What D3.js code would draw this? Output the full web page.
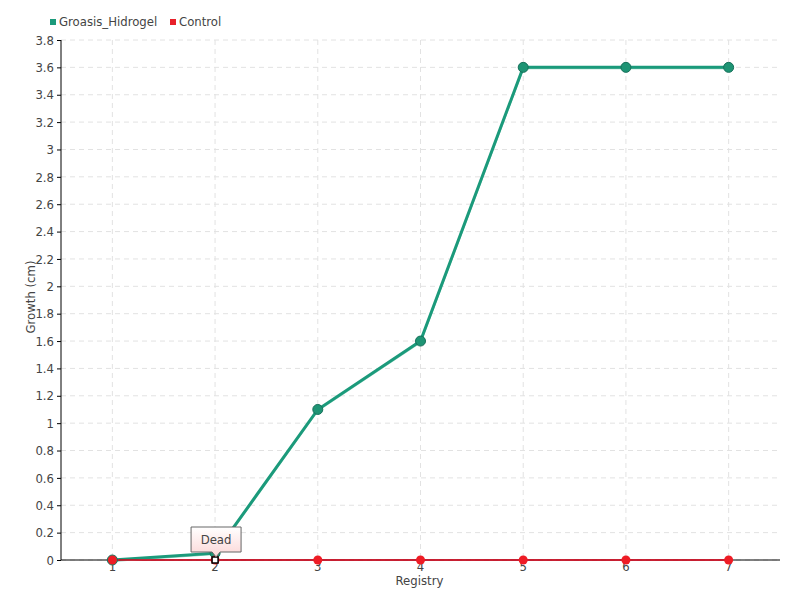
<!DOCTYPE html>
<html>
<head>
<meta charset="utf-8">
<script src="https://cdn.jsdelivr.net/npm/d3@7"></script>
<style>
  body { margin: 0; background: #fff; }
  svg text { font-family: "DejaVu Sans", sans-serif; font-stretch: condensed; fill: #444; }
</style>
</head>
<body>
<script>
var registry = [1, 2, 3, 4, 5, 6, 7];
var groasis = [0, 0.05, 1.1, 1.6, 3.6, 3.6, 3.6];
var control = [0, 0, 0, 0, 0, 0, 0];
var yTicks = d3.range(0, 3.81, 0.2).map(function(d) { return +d.toFixed(1); });
var seriesNames = ["Groasis_Hidrogel", "Control"];
var seriesColors = ["#1b9a7b", "#e8202a"];

var width = 800, height = 600;
var margin = {top: 40, right: 20, bottom: 40, left: 61};

var svg = d3.select("body").append("svg")
    .attr("width", width)
    .attr("height", height);

var x = d3.scaleBand()
    .domain(registry)
    .range([margin.left, width - margin.right]);

var cx = function(d) { return x(d) + x.bandwidth() / 2; };

var y = d3.scaleLinear()
    .domain([0, 3.8])
    .range([height - margin.bottom, margin.top]);

// grid
svg.append("g")
  .selectAll("line")
  .data(yTicks)
  .enter().append("line")
    .attr("x1", margin.left)
    .attr("x2", width - margin.right)
    .attr("y1", function(d) { return y(d); })
    .attr("y2", function(d) { return y(d); })
    .attr("stroke", "#e2e2e2")
    .attr("stroke-dasharray", "5,4");

svg.append("g")
  .selectAll("line")
  .data(registry)
  .enter().append("line")
    .attr("x1", cx)
    .attr("x2", cx)
    .attr("y1", margin.top)
    .attr("y2", height - margin.bottom)
    .attr("stroke", "#e2e2e2")
    .attr("stroke-dasharray", "5,4");

// axes
var yAxis = svg.append("g")
    .attr("transform", "translate(" + margin.left + ",0)")
    .call(d3.axisLeft(y).tickValues(yTicks).tickSize(4).tickPadding(3).tickFormat(d3.format("~g")));
yAxis.select(".domain").attr("stroke", "#000").attr("d", "M0," + margin.top + "V" + (height - margin.bottom));
yAxis.selectAll(".tick text").style("font-size", "13px");

var xAxis = svg.append("g")
    .attr("transform", "translate(0," + (height - margin.bottom) + ")")
    .call(d3.axisBottom(x).tickSize(0).tickPadding(2));
xAxis.select(".domain").attr("stroke", "#000").attr("d", "M" + margin.left + ",0H" + (width - margin.right));
xAxis.selectAll(".tick text").style("font-size", "13px");

svg.append("text")
    .attr("x", (margin.left + width - margin.right) / 2 - 1)
    .attr("y", 585)
    .attr("text-anchor", "middle")
    .style("font-size", "13px")
    .text("Registry");

svg.append("text")
    .attr("transform", "translate(35," + 297 + ") rotate(-90)")
    .attr("text-anchor", "middle")
    .style("font-size", "13px")
    .text("Growth (cm)");

// lines
var line = d3.line()
    .x(function(d, i) { return cx(registry[i]); })
    .y(function(d) { return y(d); });

svg.append("path")
    .attr("d", line(groasis))
    .attr("transform", "translate(0,1)")
    .attr("fill", "none")
    .attr("stroke", "#8fd3bd")
    .attr("stroke-width", 2);

svg.append("path")
    .attr("d", line(groasis))
    .attr("fill", "none")
    .attr("stroke", seriesColors[0])
    .attr("stroke-width", 3);

svg.append("path")
    .attr("d", line(control))
    .attr("fill", "none")
    .attr("stroke", "#e0001a")
    .attr("stroke-width", 1.5);

svg.append("g")
  .selectAll("circle")
  .data(groasis)
  .enter().append("circle")
    .attr("cx", function(d, i) { return cx(registry[i]); })
    .attr("cy", function(d) { return y(d); })
    .attr("r", 5)
    .attr("fill", "#1e9474")
    .attr("stroke", "#16705a")
    .attr("stroke-width", 1);

svg.append("g")
  .selectAll("circle")
  .data(control)
  .enter().append("circle")
    .attr("cx", function(d, i) { return cx(registry[i]); })
    .attr("cy", function(d) { return y(d); })
    .attr("r", 4.5)
    .attr("fill", "#ee1c25");

// tooltip at registry 2 (Control)
var tx = cx(2), ty = y(control[1]);
svg.append("rect")
    .attr("x", tx - 3)
    .attr("y", ty - 3)
    .attr("width", 6)
    .attr("height", 6)
    .attr("fill", "#fff")
    .attr("stroke", "#000")
    .attr("stroke-width", 1.5);

var grad = svg.append("defs").append("linearGradient")
    .attr("id", "tipGrad")
    .attr("x1", 0).attr("y1", 0).attr("x2", 0).attr("y2", 1);
grad.append("stop").attr("offset", "0%").attr("stop-color", "#ffffff");
grad.append("stop").attr("offset", "100%").attr("stop-color", "#fbd6d6");

var bx = tx - 24, by = ty - 33, bw = 50, bh = 25;
svg.append("path")
    .attr("d", "M" + bx + "," + by + "h" + bw + "v" + bh + "h" + (-(bw / 2 - 4)) +
               "l-4,5l-4,-5h" + (-(bw / 2 - 4)) + "z")
    .attr("fill", "url(#tipGrad)")
    .attr("stroke", "#666")
    .attr("stroke-width", 1);

svg.append("text")
    .attr("x", bx + bw / 2)
    .attr("y", by + 17)
    .attr("text-anchor", "middle")
    .style("font-size", "13px")
    .text("Dead");

// legend
var legend = svg.append("g")
  .selectAll("g")
  .data(seriesNames)
  .enter().append("g")
    .attr("transform", function(d, i) { return "translate(" + [50, 170][i] + ",0)"; });

legend.append("rect")
    .attr("x", 0)
    .attr("y", 19)
    .attr("width", 6)
    .attr("height", 6)
    .attr("fill", function(d, i) { return seriesColors[i]; });

legend.append("text")
    .attr("x", 9)
    .attr("y", 26)
    .style("font-size", "13px")
    .text(function(d) { return d; });
</script>
</body>
</html>
